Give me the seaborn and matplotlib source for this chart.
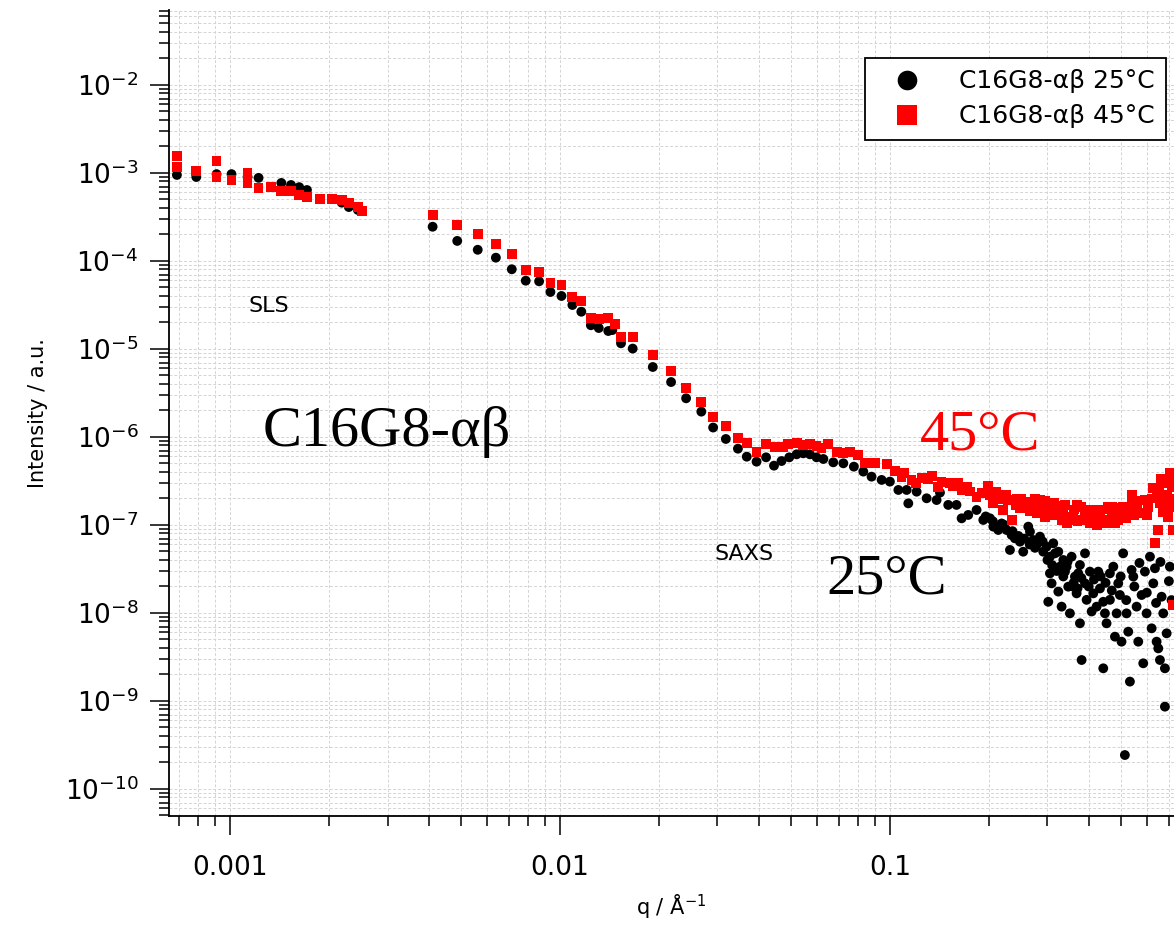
import numpy as np
import pandas as pd
import matplotlib
matplotlib.use("Agg")
import matplotlib.pyplot as plt
import matplotlib.ticker as ticker
import seaborn as sns

# C16G8-ab at 25 C (SLS + SAXS)
q_25 = [
    0.00069, 0.00079, 0.00091, 0.00101, 0.00113, 0.00122, 0.00143, 0.00153, 0.00162, 0.00171,
    0.00218, 0.00229, 0.00244,
    0.00411, 0.00488, 0.00563, 0.00639, 0.00714, 0.00787, 0.00864, 0.00935, 0.0101, 0.0109,
    0.0116, 0.0124, 0.0131, 0.0140, 0.0144, 0.0153, 0.0166, 0.0191, 0.0217, 0.0241, 0.0268,
    0.0291, 0.0318, 0.0346, 0.0368,
    0.0394, 0.0421, 0.0445, 0.0469, 0.0495, 0.0521, 0.0546, 0.0572, 0.0599, 0.0628,
    0.0673, 0.0722, 0.0777, 0.0830, 0.0879, 0.0943, 0.0999, 0.106, 0.1136, 0.1123,
    0.1204, 0.1291, 0.1384, 0.1417, 0.1501, 0.159, 0.1648, 0.1726, 0.1829, 0.1917,
    0.2009, 0.2056, 0.2128, 0.2179, 0.2255, 0.2336, 0.2309, 0.2390, 0.2476, 0.2533,
    0.2624, 0.2655, 0.2717, 0.2780, 0.2847, 0.2913, 0.2982, 0.3052, 0.3124, 0.3161,
    0.3236, 0.3273, 0.3351, 0.3389, 0.3429, 0.3550, 0.3634, 0.3763, 0.3898, 0.3052,
    0.3017, 0.3088, 0.3236, 0.3311, 0.3468, 0.3509, 0.3591, 0.3676, 0.3719, 0.3763,
    0.3807, 0.3898, 0.3942, 0.4035, 0.4083, 0.4130, 0.4227, 0.4276, 0.4327, 0.4428,
    0.4480, 0.4531, 0.4428, 0.4638, 0.4638, 0.4750, 0.4804, 0.4861, 0.4916, 0.4973,
    0.5030, 0.5088, 0.5210, 0.5272, 0.5333, 0.5149, 0.5396, 0.5461, 0.5588, 0.5653,
    0.5785, 0.5853, 0.5921, 0.5991, 0.6134, 0.6206, 0.6278, 0.6351, 0.6425, 0.6500,
    0.6576, 0.6653, 0.6730, 0.6808, 0.6808, 0.6891, 0.7048, 0.7131,
    0.195, 0.205, 0.215, 0.222, 0.235, 0.245, 0.255, 0.265, 0.275, 0.290,
    0.300, 0.310, 0.320, 0.335, 0.345, 0.360, 0.370, 0.380, 0.400, 0.415,
    0.435, 0.450, 0.470, 0.500, 0.520, 0.550, 0.570, 0.600, 0.640, 0.660, 0.700,
]
I_25 = [
    9.5e-4, 9.0e-4, 9.7e-4, 9.7e-4, 9.0e-4, 8.8e-4, 7.7e-4, 7.3e-4, 6.9e-4, 6.4e-4,
    4.6e-4, 4.1e-4, 3.8e-4,
    2.45e-4, 1.69e-4, 1.34e-4, 1.09e-4, 8.05e-5, 5.97e-5, 5.87e-5, 4.44e-5, 4.0e-5, 3.16e-5,
    2.65e-5, 1.86e-5, 1.73e-5, 1.60e-5, 1.64e-5, 1.16e-5, 1.01e-5, 6.24e-6, 4.21e-6, 2.75e-6, 1.94e-6,
    1.28e-6, 9.49e-7, 7.36e-7, 5.97e-7,
    5.24e-7, 5.87e-7, 4.72e-7, 5.33e-7, 5.87e-7, 6.35e-7, 6.52e-7, 6.35e-7, 5.87e-7, 5.62e-7,
    5.15e-7, 5.02e-7, 4.6e-7, 4.04e-7, 3.54e-7, 3.25e-7, 3.11e-7, 2.50e-7, 1.76e-7, 2.50e-7,
    2.39e-7, 2.01e-7, 1.92e-7, 2.33e-7, 1.69e-7, 1.69e-7, 1.19e-7, 1.30e-7, 1.48e-7, 1.14e-7,
    1.19e-7, 9.57e-8, 8.77e-8, 1.04e-7, 8.77e-8, 7.69e-8, 5.2e-8, 7.05e-8, 6.46e-8, 4.97e-8,
    9.57e-8, 8.4e-8, 6.75e-8, 5.92e-8, 7.37e-8, 4.97e-8, 5.67e-8, 4.36e-8, 6.19e-8, 4.76e-8,
    4.97e-8, 3.36e-8, 4.0e-8, 2.95e-8, 3.36e-8, 4.36e-8, 2.59e-8, 3.51e-8, 4.76e-8, 2.82e-8,
    1.34e-8, 2.17e-8, 1.75e-8, 1.18e-8, 1.99e-8, 9.9e-9, 1.99e-8, 1.67e-8, 2.82e-8, 7.63e-9,
    2.92e-9, 2.17e-8, 1.41e-8, 2.95e-8, 1.04e-8, 1.67e-8, 1.18e-8, 2.95e-8, 1.9e-8, 1.34e-8,
    9.9e-9, 7.63e-9, 2.35e-9, 2.82e-8, 1.41e-8, 3.36e-8, 5.38e-9, 9.9e-9, 2.17e-8, 1.60e-8,
    4.72e-9, 4.76e-8, 9.9e-9, 6.13e-9, 1.66e-9, 2.43e-10, 3.08e-8, 2.59e-8, 1.18e-8, 4.72e-9,
    1.60e-8, 2.68e-9, 2.95e-8, 9.9e-9, 4.36e-8, 6.69e-9, 2.17e-8, 3.22e-8, 4.72e-9, 3.96e-9,
    2.92e-9, 1.53e-8, 9.9e-9, 2.35e-9, 8.62e-10, 5.87e-9, 3.36e-8, 1.4e-8,
    1.25e-7, 1.1e-7, 9.5e-8, 1.0e-7, 8.5e-8, 7.5e-8, 7.0e-8, 6.0e-8, 5.5e-8, 6.5e-8,
    4.0e-8, 3.5e-8, 3.0e-8, 2.6e-8, 3.8e-8, 2.2e-8, 1.9e-8, 2.5e-8, 2.0e-8, 2.4e-8,
    2.6e-8, 2.2e-8, 1.8e-8, 2.6e-8, 1.4e-8, 2.0e-8, 3.7e-8, 1.7e-8, 1.3e-8, 3.8e-8, 2.3e-8,
]

# C16G8-ab at 45 C
q_45 = [
    0.00069, 0.00069, 0.00079, 0.00091, 0.00091, 0.00101, 0.00113, 0.00113, 0.00122, 0.00133,
    0.00143, 0.00153, 0.00162, 0.00171, 0.00187, 0.00204, 0.00218, 0.00229, 0.00244, 0.00251,
    0.00411, 0.00488, 0.00563, 0.00639, 0.00714, 0.00787, 0.00864, 0.00935, 0.0101, 0.0109,
    0.0116, 0.0124, 0.0131, 0.0140, 0.0147, 0.0153, 0.0166, 0.0191, 0.0217, 0.0241, 0.0268,
    0.0291, 0.0318, 0.0346, 0.0368,
    0.0394, 0.0421, 0.0448, 0.0475, 0.0492, 0.0521, 0.0546, 0.0572, 0.0599, 0.0620,
    0.0650, 0.0689, 0.0722, 0.0756, 0.0801, 0.0839, 0.0900, 0.0977, 0.1035, 0.1084,
    0.1162, 0.1247, 0.1337, 0.1433, 0.1519, 0.1609, 0.1707, 0.1829, 0.1986, 0.2009,
    0.2056, 0.2154, 0.2204, 0.2283, 0.2336, 0.2419, 0.2476, 0.2564, 0.2655, 0.2717,
    0.2780, 0.2847, 0.2947, 0.3017, 0.3124, 0.3197, 0.3311, 0.3351, 0.3429, 0.3509,
    0.3591, 0.3676, 0.3807, 0.3898, 0.4035, 0.4130, 0.4227, 0.4327, 0.4480, 0.4585,
    0.4694, 0.4804, 0.4973, 0.5088, 0.5272, 0.5396, 0.5588, 0.5719, 0.5921, 0.6063,
    0.6278, 0.6351, 0.6425, 0.6500, 0.6576, 0.6730, 0.6808, 0.6891, 0.6968, 0.7048,
    0.7131, 0.7215, 0.7215,
    0.110, 0.120, 0.130, 0.140, 0.155, 0.165, 0.175, 0.190,
    0.210, 0.225, 0.240, 0.250, 0.260, 0.275, 0.285, 0.295, 0.305, 0.315,
    0.325, 0.340, 0.345, 0.360, 0.370, 0.380, 0.395, 0.410, 0.420, 0.440,
    0.450, 0.470, 0.490, 0.500, 0.520, 0.540, 0.550, 0.580, 0.600, 0.620,
    0.655, 0.670, 0.690, 0.705, 0.715, 0.720, 0.660,
]
I_45 = [
    1.56e-3, 1.17e-3, 1.05e-3, 1.37e-3, 9.0e-4, 8.3e-4, 1.0e-3, 7.7e-4, 6.8e-4, 6.9e-4,
    6.2e-4, 6.2e-4, 5.6e-4, 5.3e-4, 5.07e-4, 5.07e-4, 4.9e-4, 4.57e-4, 4.1e-4, 3.7e-4,
    3.33e-4, 2.57e-4, 2.01e-4, 1.56e-4, 1.20e-4, 7.91e-5, 7.45e-5, 5.67e-5, 5.34e-5, 3.87e-5,
    3.51e-5, 2.27e-5, 2.18e-5, 2.23e-5, 1.92e-5, 1.38e-5, 1.38e-5, 8.55e-6, 5.62e-6, 3.57e-6, 2.48e-6,
    1.70e-6, 1.33e-6, 9.66e-7, 8.61e-7,
    6.69e-7, 8.32e-7, 7.63e-7, 7.76e-7, 8.32e-7, 8.62e-7, 8.11e-7, 8.32e-7, 7.9e-7, 7.43e-7,
    8.32e-7, 6.81e-7, 6.52e-7, 6.69e-7, 6.24e-7, 5.11e-7, 5.02e-7, 4.89e-7, 4.14e-7, 3.48e-7,
    3.25e-7, 3.39e-7, 3.6e-7, 3.11e-7, 2.97e-7, 2.97e-7, 2.72e-7, 2.1e-7, 2.77e-7, 2.19e-7,
    1.76e-7, 1.96e-7, 1.48e-7, 1.92e-7, 1.14e-7, 1.96e-7, 1.55e-7, 1.84e-7, 1.42e-7, 1.84e-7,
    1.36e-7, 1.92e-7, 1.24e-7, 1.76e-7, 1.30e-7, 1.64e-7, 1.14e-7, 1.48e-7, 1.04e-7, 1.14e-7,
    1.24e-7, 1.69e-7, 1.14e-7, 1.48e-7, 1.04e-7, 1.19e-7, 1.0e-7, 1.36e-7, 1.14e-7, 1.61e-7,
    1.24e-7, 1.04e-7, 1.24e-7, 1.61e-7, 1.48e-7, 2.19e-7, 1.76e-7, 1.36e-7, 1.92e-7, 1.61e-7,
    2.61e-7, 6.19e-8, 2.1e-7, 8.77e-8, 1.76e-7, 2.97e-7, 1.61e-7, 2.19e-7, 1.24e-7, 3.86e-7,
    2.72e-7, 8.77e-8, 1.23e-8,
    3.9e-7, 3.0e-7, 3.3e-7, 2.7e-7, 2.8e-7, 2.5e-7, 2.4e-7, 2.3e-7,
    2.4e-7, 2.2e-7, 1.7e-7, 2.0e-7, 1.6e-7, 2.0e-7, 1.5e-7, 1.9e-7, 1.4e-7, 1.8e-7,
    1.3e-7, 1.7e-7, 1.25e-7, 1.5e-7, 1.1e-7, 1.6e-7, 1.2e-7, 1.5e-7, 1.15e-7, 1.5e-7,
    1.05e-7, 1.6e-7, 1.15e-7, 1.55e-7, 1.2e-7, 1.7e-7, 1.3e-7, 1.9e-7, 1.3e-7, 2.0e-7,
    2.4e-7, 1.4e-7, 3.0e-7, 2.0e-7, 3.5e-7, 1.6e-7, 3.3e-7,
]

label_25 = "C16G8-αβ 25°C"
label_45 = "C16G8-αβ 45°C"

df = pd.concat([
    pd.DataFrame({"q": q_25, "I": I_25, "series": label_25}),
    pd.DataFrame({"q": q_45, "I": I_45, "series": label_45}),
], ignore_index=True)

sns.set_style("ticks")
plt.rcParams["font.family"] = ["DejaVu Sans"]
plt.rcParams["mathtext.fontset"] = "dejavusans"
plt.rcParams["text.color"] = "black"
plt.rcParams["axes.labelcolor"] = "black"

fig = plt.figure(figsize=(11.74, 9.25), dpi=100)
ax = fig.add_axes([169 / 1174, 1 - 816 / 925, (1174 - 169) / 1174, (816 - 10) / 925])

sns.scatterplot(
    data=df, x="q", y="I", hue="series", style="series",
    palette={label_25: "black", label_45: "#ff0000"},
    markers={label_25: "o", label_45: "s"},
    s=50, linewidth=0, ax=ax, legend=True,
)

ax.set_xscale("log")
ax.set_yscale("log")
ax.set_xlim(6.53e-4, 0.7254)
ax.set_ylim(4.93e-11, 0.0711)

ax.xaxis.set_major_locator(ticker.FixedLocator([0.001, 0.01, 0.1]))
ax.xaxis.set_minor_locator(ticker.LogLocator(base=10, subs=np.arange(2, 10), numticks=100))
ax.xaxis.set_major_formatter(ticker.FuncFormatter(lambda v, _: f"{v:g}"))
ax.xaxis.set_minor_formatter(ticker.NullFormatter())
ax.yaxis.set_major_locator(ticker.FixedLocator([10.0 ** e for e in range(-10, -1)]))
ax.yaxis.set_major_formatter(ticker.LogFormatterSciNotation())
ax.yaxis.set_minor_locator(ticker.LogLocator(base=10, subs=np.arange(2, 10), numticks=100))
ax.yaxis.set_minor_formatter(ticker.NullFormatter())

ax.grid(True, which="both", color="#d4d4d4", linestyle=(0, (3, 2)), linewidth=0.7)
ax.set_axisbelow(True)

for side in ["top", "right"]:
    ax.spines[side].set_visible(False)
for side in ["left", "bottom"]:
    ax.spines[side].set_linewidth(1.3)
    ax.spines[side].set_color("black")

ax.tick_params(axis="both", which="major", direction="out", length=14, width=1.1,
               labelsize=19, color="black", labelcolor="black")
ax.tick_params(axis="both", which="minor", direction="out", length=7, width=1.1, color="black")
ax.tick_params(axis="x", which="major", pad=14)
ax.tick_params(axis="y", which="major", pad=8)

ax.set_xlabel("q / Å$^{-1}$", fontsize=15, labelpad=8)
ax.set_ylabel("Intensity / a.u.", fontsize=15, labelpad=12)

handles, labels = ax.get_legend_handles_labels()
leg = ax.legend(
    handles, labels, loc="upper right",
    bbox_to_anchor=(1166 / 1174, 1 - 58 / 925), bbox_transform=fig.transFigure,
    borderaxespad=0, fontsize=18, markerscale=2.0, frameon=True, fancybox=False,
    framealpha=1, edgecolor="black", handletextpad=0.9, borderpad=0.45, labelspacing=0.45,
    handlelength=2.4,
)
leg.get_frame().set_linewidth(1.3)

# annotations
fig.text(249 / 1174, 1 - 312 / 925, "SLS", fontsize=16, color="black")
fig.text(715 / 1174, 1 - 560 / 925, "SAXS", fontsize=16, color="black")
fig.text(263 / 1174, 1 - 446 / 925, "C16G8-αβ", fontsize=42,
         family=["Liberation Serif", "DejaVu Serif"], color="black")
fig.text(920 / 1174, 1 - 450 / 925, "45°C", fontsize=42,
         family=["Liberation Serif", "DejaVu Serif"], color="#ff0000")
fig.text(826 / 1174, 1 - 593 / 925, "25°C", fontsize=42,
         family=["Liberation Serif", "DejaVu Serif"], color="black")

fig.savefig("out.png", dpi=100)
